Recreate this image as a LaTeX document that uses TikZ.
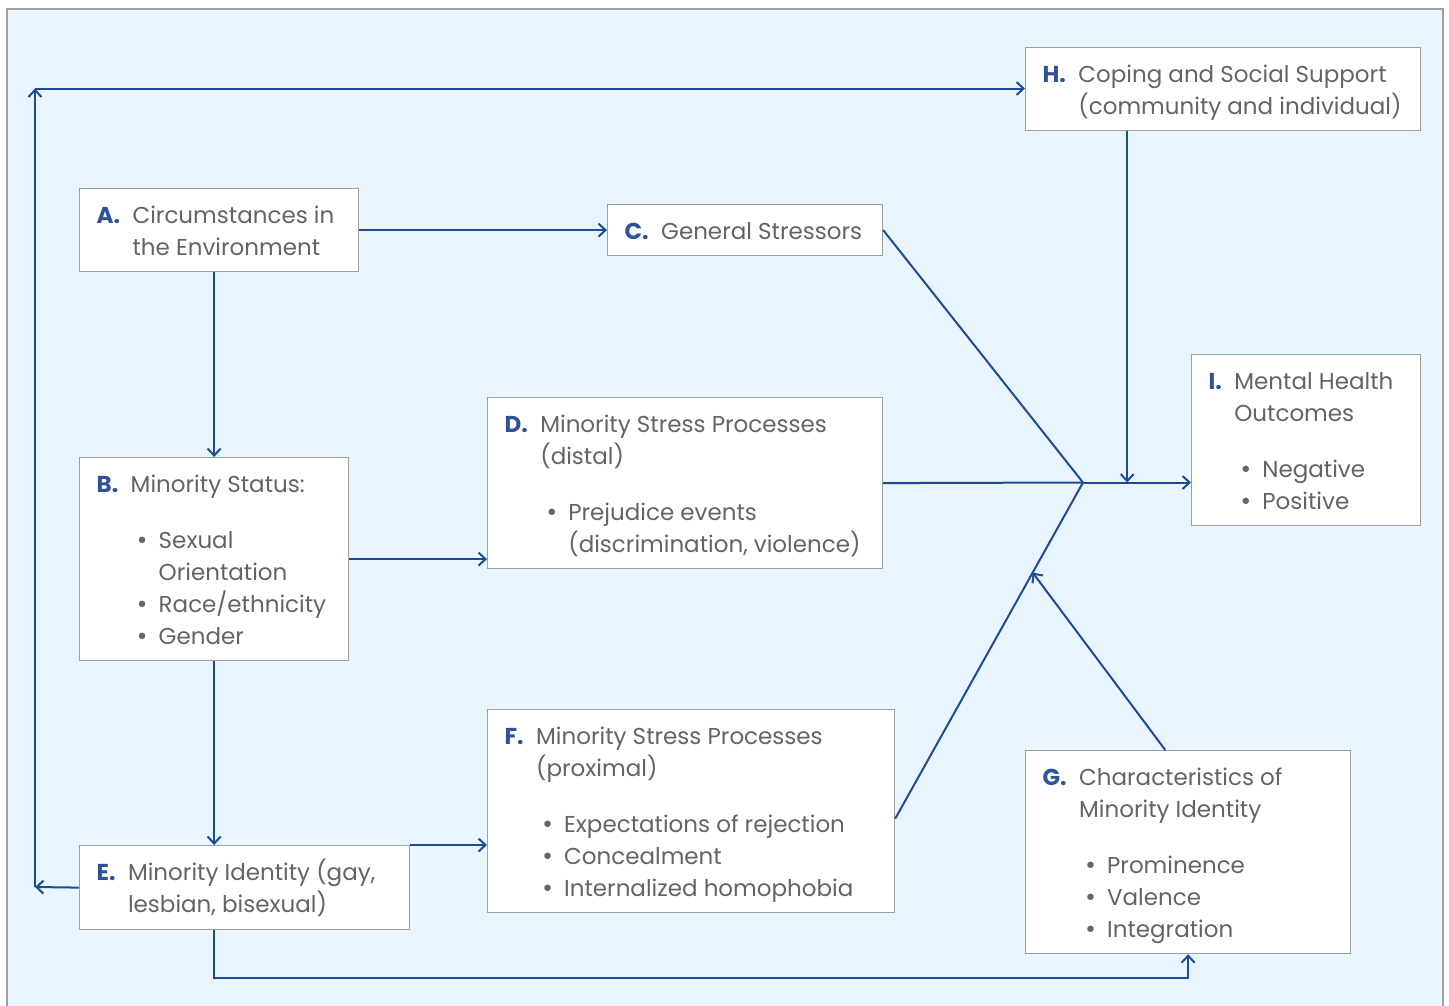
\documentclass[tikz,border=0pt]{standalone}
\usepackage{fontspec}
\setmainfont{Poppins}
\newfontfamily\bulfont{DejaVu Sans}
\usetikzlibrary{arrows.meta,calc}
\definecolor{bgblue}{HTML}{E8F5FC}
\definecolor{lineblue}{HTML}{1E4B96}
\definecolor{lblue}{HTML}{2E5199}
\definecolor{txtgray}{HTML}{646464}
\definecolor{boxgray}{HTML}{A0A0A0}
\newcommand\lab[1]{\textbf{\color{lblue}#1}}
\newcommand\bul[1]{\makebox[28pt][l]{\hspace*{5pt}{\bulfont\fontsize{22}{32}\selectfont •}}#1}
\newcommand\cont[1]{\hspace*{28pt}#1}
\newcommand\bx[4]{\begin{minipage}[t][#2][t]{#1}\vspace*{12.6pt}\noindent\hspace*{17pt}\begin{tabular}[t]{@{}l@{\hspace{12.5pt}}l@{}}\lab{#3} & \begin{tabular}[t]{@{}l@{}}#4\end{tabular}\end{tabular}\end{minipage}}
\tikzset{
  box/.style={draw=boxgray, line width=1.2pt, fill=white, inner sep=0pt, anchor=north west, text=txtgray, font=\fontsize{23}{32}\selectfont},
  conn/.style={draw=lineblue, line width=2pt},
  arr/.style={conn, -{Straight Barb[length=7pt,width=13pt,line width=2pt]}}
}
\begin{document}
\begin{tikzpicture}[x=1pt,y=-1pt]
\useasboundingbox (0,0) rectangle (1449,1005);
\fill[white] (0,0) rectangle (1449,1005);
\draw[draw=boxgray, line width=1.2pt, fill=bgblue] (7,9) rectangle (1443,1020);

\node[box] (A) at (79,188) {\bx{279pt}{83pt}{A.}{Circumstances in\\the Environment}};
\node[box] (C) at (607,204) {\bx{275pt}{51pt}{C.}{General Stressors}};
\node[box] (B) at (79,457) {\bx{269pt}{203pt}{B.}{Minority Status:\\[24pt]\bul{Sexual}\\\cont{Orientation}\\\bul{Race/ethnicity}\\\bul{Gender}}};
\node[box] (D) at (487,397) {\bx{395pt}{171pt}{D.}{Minority Stress Processes\\(distal)\\[24pt]\bul{Prejudice events}\\\cont{(discrimination, violence)}}};
\node[box] (E) at (79,845) {\bx{330pt}{84pt}{E.}{Minority Identity (gay,\\lesbian, bisexual)}};
\node[box] (F) at (487,709) {\bx{407pt}{203pt}{F.}{Minority Stress Processes\\(proximal)\\[24pt]\bul{Expectations of rejection}\\\bul{Concealment}\\\bul{Internalized homophobia}}};
\node[box] (G) at (1025,750) {\bx{325pt}{203pt}{G.}{Characteristics of\\Minority Identity\\[24pt]\bul{Prominence}\\\bul{Valence}\\\bul{Integration}}};
\node[box] (H) at (1025,47) {\bx{395pt}{83pt}{H.}{Coping and Social Support\\(community and individual)}};
\node[box] (I) at (1191,354) {\bx{229pt}{171pt}{I.}{Mental Health\\Outcomes\\[24pt]\bul{Negative}\\\bul{Positive}}};

\coordinate (J) at (1083,482.5);
\coordinate (L) at (35,887);
\coordinate (TL) at (35,88.5);
\coordinate (Hs) at ($(H.south west)!0.258!(H.south east)$);
\coordinate (Gn) at ($(G.north west)!0.43!(G.north east)$);
\coordinate (Fe) at ($(F.north east)!0.537!(F.south east)$);
\coordinate (FJ) at ($(Fe)!0.732!(J)$);

\draw[arr] (A.east) -- (C.west);
\draw[arr] (A.south -| B.north) -- (B.north);
\draw[arr] (B.east) -- (B.east -| D.west);
\draw[arr] (B.south) -- (B.south |- E.north);
\draw[arr] (E.north east) -- (E.north east -| F.west);
\draw[arr] (E.west) -- (L);
\draw[arr] (L) -- (TL);
\draw[arr] (TL) -- (TL -| H.west);
\draw[arr] (E.south -| B.south) -- ++(0,48) -| (G.south);
\draw[conn] (C.east) -- (J);
\draw[conn] (D.east) -- (J);
\draw[conn] (Fe) -- (J);
\draw[arr] (J) -- (J -| I.west);
\draw[arr] (Hs) -- (Hs |- J);
\draw[arr] (Gn) -- (FJ);
\end{tikzpicture}
\end{document}
